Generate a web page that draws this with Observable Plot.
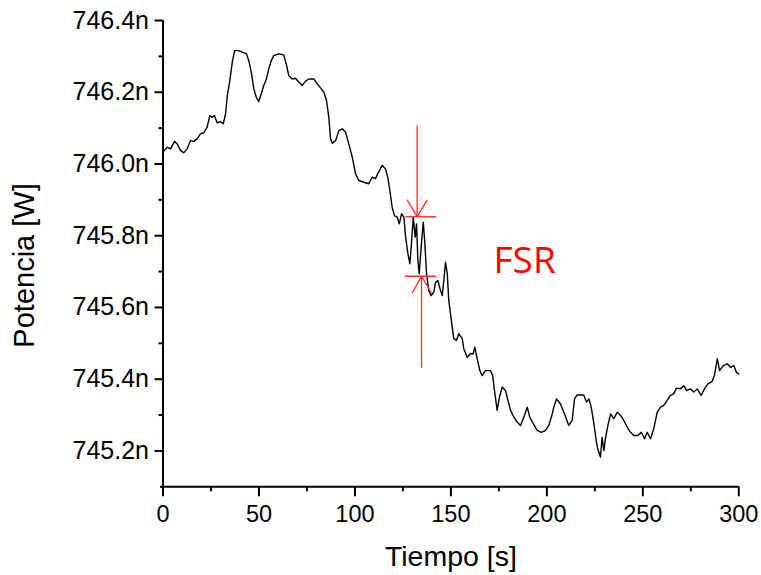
<!DOCTYPE html>
<html>
<head>
<meta charset="utf-8">
<script src="https://cdn.jsdelivr.net/npm/d3@7"></script>
<script src="https://cdn.jsdelivr.net/npm/@observablehq/plot@0.6"></script>
<style>
  html, body { margin: 0; padding: 0; background: #fff; }
  #chart { width: 761px; height: 575px; overflow: hidden; }
</style>
</head>
<body>
<div id="chart"></div>
<script>
// Tiempo [s]
const tiempo = [0,2.2,3.9,6.0,7.4,9.1,10.8,12.6,14.3,16.1,17.8,19.5,21.3,23.0,24.4,25.6,26.8,28.2,30.0,31.4,32.6,33.5,34.7,36.1,37.3,39.5,41.3,43.5,44.7,46.0,47.3,48.6,49.9,51.2,52.5,53.9,55.1,56.4,57.7,60.3,62.9,64.4,65.5,67.3,69.0,70.8,
72.5,74.3,76.0,78.6,80.3,82.4,83.8,85.2,86.4,87.3,88.2,89.9,91.6,93.4,95.1,96.8,98.6,100.3,102.0,104.6,107.2,109.0,110.7,111.9,114.2,115.9,117.1,118.2,119.4,120.6,122.0,123.1,124.3,125.5,126.4,127.6,128.6,129.3,130.4,131.4,132.1,132.8,133.5,134.5,135.6,136.4,137.3,138.5,
139.7,141.1,142.0,143.2,144.6,145.5,146.3,147.2,148.1,148.9,149.8,150.7,151.5,152.9,154.1,155.9,156.7,158.5,160.2,161.6,162.5,163.7,165.1,166.3,168.0,170.6,171.8,172.7,174.1,175.3,176.7,178.5,179.7,181.1,182.8,184.6,186.3,188.0,189.8,191.1,192.9,195.0,197.1,199.3,201.0,202.8,
203.6,205.0,207.1,209.2,211.4,213.2,214.4,215.8,219.2,220.7,221.9,223.1,224.5,225.7,226.5,227.9,228.8,229.7,230.6,231.8,233.2,234.9,236.7,238.4,240.1,241.9,243.6,245.3,247.4,249.2,250.9,252.3,254.0,255.7,257.5,259.2,260.9,262.7,264.4,266.1,267.5,269.6,271.4,272.8,274.8,276.6,278.3,280.4,282.1,283.9,286.1,287.3,288.8,290.0,291.9,294.0,295.7,297.4,298.8,300];

// Potencia [nW]
const potencia = [746.033,746.047,746.042,746.063,746.056,746.038,746.031,746.042,746.065,746.063,746.070,746.084,746.087,746.103,746.135,746.130,746.135,746.115,746.118,746.112,746.140,746.191,746.228,746.284,746.316,746.316,746.312,746.307,746.288,746.256,746.210,746.186,746.174,746.196,746.219,746.237,746.265,746.288,746.302,746.307,746.304,746.275,746.247,746.237,746.239,746.228,
746.219,746.231,746.237,746.237,746.224,746.210,746.200,746.177,746.130,746.070,746.058,746.065,746.093,746.098,746.089,746.056,746.019,745.973,745.954,745.949,745.945,745.963,745.959,745.973,745.996,745.987,745.963,745.926,745.879,745.856,745.852,745.833,745.861,745.852,745.796,745.750,745.722,745.768,745.852,745.796,745.833,745.731,745.694,745.768,745.838,745.782,745.694,745.647,
745.633,745.643,745.670,745.675,745.647,745.633,745.675,745.726,745.694,745.619,745.582,745.545,745.513,745.508,745.527,745.513,745.485,745.461,745.471,745.471,745.489,745.457,745.424,745.410,745.424,745.424,745.410,745.368,745.313,745.350,745.378,745.368,745.341,745.313,745.294,745.280,745.271,745.294,745.322,745.294,745.276,745.257,745.252,745.257,745.271,745.303,
745.322,745.345,745.331,745.303,745.271,745.285,745.345,745.356,745.356,745.336,745.345,745.322,745.276,745.229,745.206,745.183,745.238,745.201,745.238,745.271,745.303,745.290,745.308,745.299,745.285,745.266,745.252,745.243,745.243,745.252,745.234,745.252,745.234,745.262,745.308,745.322,745.327,745.341,745.355,745.359,745.375,745.373,745.382,745.368,745.373,745.364,745.373,745.355,745.373,745.387,745.394,745.410,745.457,745.424,745.438,745.443,745.433,745.438,745.419,745.415];

// Tick values
const xMajor = [0, 50, 100, 150, 200, 250, 300];
const xMinor = [25, 75, 125, 175, 225, 275];
const yMajor = [745.2, 745.4, 745.6, 745.8, 746.0, 746.2, 746.4];
const yMinor = [745.3, 745.5, 745.7, 745.9, 746.1, 746.3];
const xDomain = [0, 300];
const yDomain = [745.1, 746.4];

// FSR annotation segments (data units)
const segX1 = [132.4, 126.3, 127.2, 137.7, 134.7, 126.0, 129.8, 139.9];
const segY1 = [746.107, 745.853, 745.900, 745.900, 745.432, 745.687, 745.640, 745.640];
const segX2 = [132.4, 142.3, 132.4, 132.4, 134.7, 142.3, 134.7, 134.7];
const segY2 = [745.853, 745.853, 745.853, 745.853, 745.687, 745.687, 745.687, 745.687];
const fsrLabel = ["FSR"];
const fsrX = [188.4];
const fsrY = [745.697];

const xTitle = "Tiempo [s]";
const yTitle = "Potencia [W]";

const font = "'Liberation Sans', Arial, Helvetica, sans-serif";

const chart = Plot.plot({
  width: 761,
  height: 575,
  marginLeft: 162.5,
  marginRight: 22.7,
  marginTop: 20,
  marginBottom: 88.7,
  style: { fontFamily: font, background: "#fff", color: "#000", overflow: "visible" },
  x: { domain: xDomain, axis: null },
  y: { domain: yDomain, axis: null },
  marks: [
    // axis lines
    Plot.ruleX([0], { stroke: "#000", strokeWidth: 2 }),
    Plot.ruleY([745.1], { stroke: "#000", strokeWidth: 2, x1: -1.3, x2: 300 }),
    // ticks
    Plot.axisX(xMajor, { tickSize: 10, tickPadding: 9, fontSize: 23.5, label: null, strokeWidth: 2, tickFormat: d => String(d), fill: "#000" }),
    Plot.axisX(xMinor, { tickSize: 5, strokeWidth: 2, label: null, tickFormat: () => "" }),
    Plot.axisY(yMajor, { tickSize: 8, tickPadding: 6, fontSize: 25, label: null, strokeWidth: 2, tickFormat: d => d.toFixed(1) + "n", fill: "#000" }),
    Plot.axisY(yMinor, { tickSize: 4, strokeWidth: 2, label: null, tickFormat: () => "" }),
    // data line
    Plot.line(tiempo, { x: tiempo, y: potencia, stroke: "#000", strokeWidth: 1.4 }),
    // FSR annotation
    Plot.link(segX1, { x1: segX1, y1: segY1, x2: segX2, y2: segY2, stroke: "#ff2a2a", strokeWidth: 1.3 }),
    Plot.text(fsrLabel, { x: fsrX, y: fsrY, text: d => d, fill: "#ff0000", fontSize: 37, fontFamily: "'Open Sans', sans-serif", textAnchor: "middle", lineAnchor: "bottom" }),
    // axis titles
    Plot.text([xTitle], { frameAnchor: "bottom", dy: 78.7, text: d => d, fontSize: 28.5, lineAnchor: "bottom", textAnchor: "middle", fill: "#000" }),
    Plot.text([yTitle], { frameAnchor: "left", rotate: -90, dx: -129.5, dy: 11.8, text: d => d, fontSize: 29, lineAnchor: "bottom", textAnchor: "middle", fill: "#000" })
  ]
});
document.getElementById("chart").appendChild(chart);
</script>
</body>
</html>
